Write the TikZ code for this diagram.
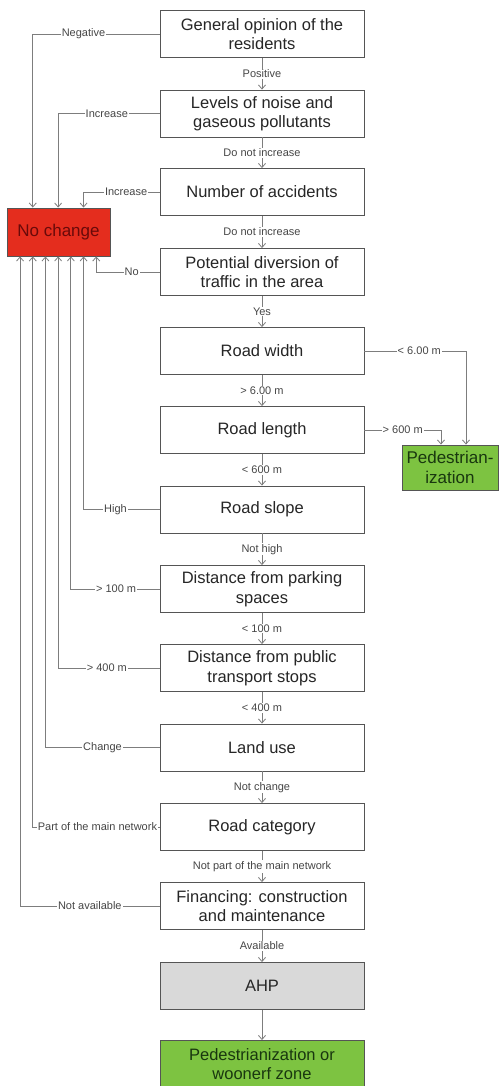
\documentclass[tikz,border=0pt]{standalone}
\usepackage{fontspec}
\setmainfont{Liberation Sans}
\usetikzlibrary{arrows.meta,calc}
\definecolor{linegray}{RGB}{125,125,125}
\definecolor{boxline}{RGB}{85,85,85}
\definecolor{stopred}{RGB}{228,45,30}
\definecolor{stoptext}{RGB}{105,10,10}
\definecolor{gogreen}{RGB}{125,195,65}
\definecolor{gotext}{RGB}{25,55,15}
\definecolor{ahpgray}{RGB}{217,217,217}
\definecolor{labtext}{RGB}{70,70,70}
\begin{document}
\begin{tikzpicture}[x=1pt,y=-1pt,
  box/.style={draw=boxline, line width=0.9pt, minimum width=204pt, minimum height=47pt,
    align=center, inner sep=2pt, font=\fontsize{16.5}{19.5}\selectfont, text=black!85},
  lab/.style={fill=white, inner sep=1pt, font=\fontsize{11}{12}\selectfont, text=labtext},
  arr/.style={draw=linegray, line width=0.8pt, -{Straight Barb[length=4pt,width=7pt]}},
]
\useasboundingbox (0,0) rectangle (499,1086);
\fill[white] (0,0) rectangle (499,1086);

% main decision column
\node[box] (b1)  at (262,34)    {General opinion of the\\residents};
\node[box] (b2)  at (262,113.5) {Levels of noise and\\gaseous pollutants};
\node[box] (b3)  at (262,192)   {Number of accidents};
\node[box] (b4)  at (262,272)   {Potential diversion of\\traffic in the area};
\node[box] (b5)  at (262,351)   {Road width};
\node[box] (b6)  at (262,430)   {Road length};
\node[box] (b7)  at (262,509.5) {Road slope};
\node[box] (b8)  at (262,589)   {Distance from parking\\spaces};
\node[box] (b9)  at (262,668)   {Distance from public\\transport stops};
\node[box] (b10) at (262,747.5) {Land use};
\node[box] (b11) at (262,827)   {Road category};
\node[box] (b12) at (262,906)   {Financing: construction\\and maintenance};
\node[box, fill=ahpgray] (b13) at (262,986) {AHP};
\node[box, fill=gogreen, text=gotext] (b14) at (262,1064) {Pedestrianization or\\woonerf zone};

% outcome boxes at the sides
\node[box, fill=stopred, text=stoptext, minimum width=103pt, minimum height=48pt,
  font=\fontsize{17}{20}\selectfont] (nc) at (58.5,232) {No change};
\node[box, fill=gogreen, text=gotext, minimum width=96pt, minimum height=45pt,
  font=\fontsize{17}{20}\selectfont] (ped) at (450,467.5) {Pedestrian-\\ization};

% downward flow with its conditions
\foreach \a/\b/\t in {b1/b2/Positive, b2/b3/Do not increase, b3/b4/Do not increase,
    b4/b5/Yes, b5/b6/> 6.00 m, b6/b7/< 600 m, b7/b8/Not high, b8/b9/< 100 m,
    b9/b10/< 400 m, b10/b11/Not change, b11/b12/Not part of the main network,
    b12/b13/Available}
  \draw[arr] (\a.south) -- node[lab]{\t} (\b.north);
\draw[arr] (b13.south) -- (b14.north);

% branches into "No change" from above
\draw[arr] (b1.west) -| node[lab,pos=.30]{Negative} ($(nc.north west)+(26.2,0)$);
\draw[arr] (b2.west) -| node[lab,pos=.26]{Increase} ($(nc.north west)+(51.6,0)$);
\draw[arr] (b3.west) -| node[lab,pos=.22]{Increase} ($(nc.north west)+(77,0)$);

% branches into "No change" from below
\draw[arr] (b4.west)  -| node[lab,pos=.22]{No}       ($(nc.south west)+(89.7,0)$);
\draw[arr] (b7.west)  -| node[lab,pos=.29]{High}     ($(nc.south west)+(77,0)$);
\draw[arr] (b8.west)  -| node[lab,pos=.245]{> 100 m} ($(nc.south west)+(64.3,0)$);
\draw[arr] (b9.west)  -| node[lab,pos=.26]{> 400 m}  ($(nc.south west)+(51.6,0)$);
\draw[arr] (b10.west) -| node[lab,pos=.25]{Change}   ($(nc.south west)+(38.9,0)$);
\draw[arr] (b11.west) -| node[lab,pos=.245]{Part of the main network} ($(nc.south west)+(26.2,0)$);
\draw[arr] (b12.west) -| node[lab,pos=.25]{Not available} ($(nc.south west)+(13.5,0)$);

% branches into pedestrianization
\draw[arr] (b5.east) -| node[lab,pos=.27]{< 6.00 m} ($(ped.north)+(16,0)$);
\draw[arr] (b6.east) -| node[lab,pos=.25]{> 600 m}  ($(ped.north)+(-9,0)$);
\end{tikzpicture}
\end{document}
